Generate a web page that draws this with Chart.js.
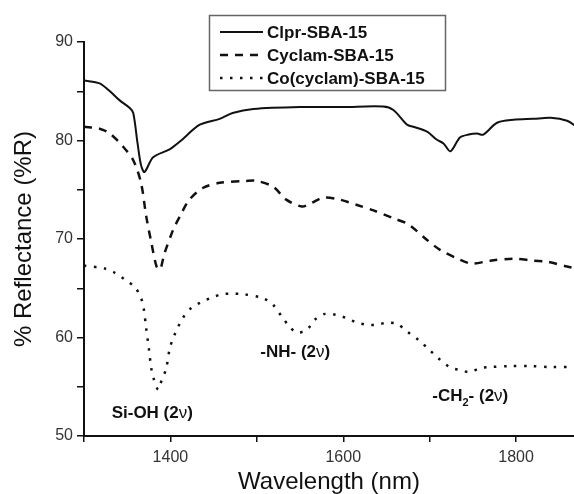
<!DOCTYPE html>
<html>
<head>
<meta charset="utf-8">
<script src="https://cdn.jsdelivr.net/npm/chart.js@4.4.1/dist/chart.umd.min.js"></script>
<style>
html,body{margin:0;padding:0;background:#fff;}
#wrap{width:574px;height:494px;position:relative;}
</style>
</head>
<body>
<div id="wrap"><canvas id="c" width="574" height="494"></canvas></div>
<script>
// ---- data ----
const seriesLabels = ['Clpr-SBA-15', 'Cyclam-SBA-15', 'Co(cyclam)-SBA-15'];

const clprNm = [1300,1318,1330,1341,1353,1357,1362,1366,1370,1380,1399,1411,1434,1457,1472,1496,1550,1600,1646,1658,1674,1681,1697,1708,1716,1724,1735,1745,1755,1762,1778,1797,1820,1840,1859,1870];
const clprR  = [86.1,85.8,85.0,84.1,83.3,82.8,79.7,77.5,76.8,78.3,79.1,79.9,81.6,82.2,82.8,83.2,83.4,83.4,83.45,83.1,81.6,81.4,80.9,80.1,79.7,78.9,80.3,80.6,80.7,80.6,81.8,82.1,82.2,82.3,82.0,81.4];

const cyclamNm = [1300,1318,1330,1345,1357,1366,1372,1378,1384,1388,1393,1403,1411,1422,1438,1457,1488,1500,1519,1534,1552,1562,1577,1596,1616,1635,1658,1675,1697,1712,1735,1749,1770,1797,1820,1836,1859,1870];
const cyclamR  = [81.4,81.2,80.7,79.4,78.0,75.7,72.3,69.6,67.2,66.9,68.5,70.9,72.3,74.0,75.2,75.7,75.9,75.9,75.3,74.0,73.3,73.6,74.2,74.0,73.45,72.9,72.1,71.5,69.9,68.9,67.9,67.5,67.8,68.0,67.8,67.7,67.2,67.0];

const coNm = [1300,1324,1335,1347,1359,1366,1369,1372,1375,1378,1381,1386,1390,1395,1399,1403,1408,1414,1424,1436,1449,1460,1472,1484,1507,1519,1529,1536,1546,1558,1567,1579,1592,1604,1616,1627,1639,1650,1662,1674,1687,1699,1710,1723,1735,1746,1759,1770,1793,1817,1840,1870];
const coR  = [67.3,67.0,66.6,65.9,65.1,64.0,63.0,60.9,58.9,56.8,55.7,54.7,55.7,56.8,58.8,59.9,60.9,61.95,63.0,63.6,64.1,64.4,64.45,64.4,64.0,63.3,62.1,61.3,60.5,60.8,61.8,62.4,62.3,61.95,61.5,61.3,61.3,61.5,61.4,60.6,59.75,58.8,57.9,57.0,56.7,56.5,56.9,57.0,57.1,57.1,57.0,57.0];

const xTickLabels = [1400, 1600, 1800];
const yTickLabels = [50, 60, 70, 80, 90];

// band annotations: text and anchor (wavelength, reflectance)
const bandText = ['Si-OH (2ν)', '-NH- (2ν)', '-CH2- (2ν)'];
const bandNm   = [1332, 1504, 1703];
const bandR    = [51.8, 58.0, 53.6];

const toPts = (xs, ys) => xs.map((x, i) => ({x: x, y: ys[i]}));

const legendPlugin = {
  id: 'boxLegend',
  afterDraw(chart) {
    const ctx = chart.ctx;
    ctx.save();
    ctx.strokeStyle = '#666';
    ctx.lineWidth = 1.5;
    ctx.strokeRect(209.5, 15.5, 236, 75);
    chart.data.datasets.forEach((ds, i) => {
      const y = 32 + i * 23;
      ctx.beginPath();
      ctx.strokeStyle = '#111';
      ctx.lineWidth = ds.borderWidth;
      ctx.setLineDash(ds.borderDash || []);
      ctx.lineCap = ds.borderCapStyle || 'butt';
      ctx.moveTo(220, y);
      ctx.lineTo(263, y);
      ctx.stroke();
      ctx.setLineDash([]);
      ctx.fillStyle = '#111';
      ctx.font = 'bold 17px "Liberation Sans", Arial, sans-serif';
      ctx.textBaseline = 'middle';
      ctx.textAlign = 'left';
      ctx.fillText(ds.label, 267, y + 1);
    });
    ctx.restore();
  }
};

const bandPlugin = {
  id: 'bandLabels',
  afterDatasetsDraw(chart) {
    const ctx = chart.ctx;
    const xs = chart.scales.x, ys = chart.scales.y;
    ctx.save();
    ctx.fillStyle = '#111';
    ctx.textBaseline = 'alphabetic';
    ctx.textAlign = 'left';
    const big = 'bold 17px "Liberation Sans", Arial, sans-serif';
    const small = 'bold 11px "Liberation Sans", Arial, sans-serif';
    const nu = '17px "Liberation Sans", Arial, sans-serif';
    bandText.forEach((t, i) => {
      let x = xs.getPixelForValue(bandNm[i]);
      const y = ys.getPixelForValue(bandR[i]);
      const pieces = [];
      if (t.indexOf('CH2') >= 0) {
        pieces.push(['-CH', big, 0], ['2', small, 5], ['- (2', big, 0], ['ν', nu, 0], [')', big, 0]);
      } else {
        const k = t.indexOf('ν');
        pieces.push([t.slice(0, k), big, 0], ['ν', nu, 0], [t.slice(k + 1), big, 0]);
      }
      pieces.forEach(p => {
        ctx.font = p[1];
        ctx.fillText(p[0], x, y + p[2]);
        x += ctx.measureText(p[0]).width;
      });
    });
    ctx.restore();
  }
};

new Chart(document.getElementById('c'), {
  type: 'line',
  data: {
    datasets: [
      { label: seriesLabels[0], data: toPts(clprNm, clprR), borderColor: '#111', borderWidth: 2, borderDash: [], pointRadius: 0, tension: 0.3, fill: false },
      { label: seriesLabels[1], data: toPts(cyclamNm, cyclamR), borderColor: '#111', borderWidth: 2.5, borderDash: [8, 7], pointRadius: 0, tension: 0.3, fill: false },
      { label: seriesLabels[2], data: toPts(coNm, coR), borderColor: '#111', borderWidth: 2.5, borderDash: [2.5, 7.5], pointRadius: 0, tension: 0.3, fill: false }
    ]
  },
  options: {
    responsive: false,
    animation: false,
    layout: { padding: { top: 42, right: 0, left: 0, bottom: 0 } },
    plugins: { legend: { display: false }, tooltip: { enabled: false } },
    scales: {
      x: {
        type: 'linear',
        min: 1300, max: 1867,
        afterBuildTicks: s => { s.ticks = s.ticks.filter(t => t.value % 100 === 0); },
        afterFit: s => { s.height = 58; },
        ticks: {
          stepSize: 100, autoSkip: false, maxRotation: 0, padding: 6,
          color: '#333',
          font: { family: '"Liberation Sans", Arial, sans-serif', size: 16 },
          callback: v => xTickLabels.includes(v) ? String(v) : ''
        },
        grid: { display: true, drawOnChartArea: false, drawTicks: true, tickLength: 6, color: '#111', lineWidth: 1.5 },
        border: { display: true, color: '#111', width: 2 },
        title: { display: true, text: 'Wavelength (nm)', color: '#111',
          font: { family: '"Liberation Sans", Arial, sans-serif', size: 24, lineHeight: 1 }, padding: { top: 0, bottom: 0 } }
      },
      y: {
        min: 50, max: 90,
        afterFit: s => { s.width = 84; },
        ticks: {
          stepSize: 5, autoSkip: false, padding: 4,
          color: '#333',
          font: { family: '"Liberation Sans", Arial, sans-serif', size: 16 },
          callback: v => yTickLabels.includes(v) ? String(v) : ''
        },
        grid: { display: true, drawOnChartArea: false, drawTicks: true, tickLength: 7, color: '#111', lineWidth: 1.5 },
        border: { display: true, color: '#111', width: 2 },
        title: { display: true, text: '% Reflectance (%R)', color: '#111',
          font: { family: '"Liberation Sans", Arial, sans-serif', size: 24, lineHeight: 1 }, padding: { top: 12, bottom: 0 } }
      }
    }
  },
  plugins: [legendPlugin, bandPlugin]
});
</script>
</body>
</html>
